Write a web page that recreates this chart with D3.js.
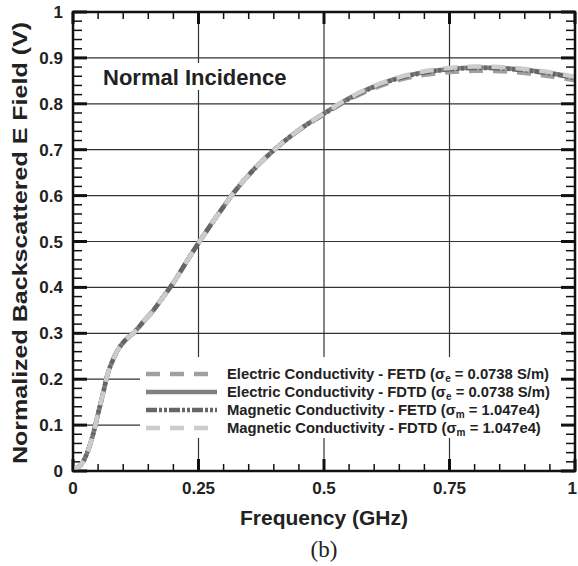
<!DOCTYPE html>
<html>
<head>
<meta charset="utf-8">
<script src="https://cdn.jsdelivr.net/npm/d3@7"></script>
<style>
  body { margin: 0; background: #fff; }
  text { font-family: "Liberation Sans", Arial, Helvetica, sans-serif; }
</style>
</head>
<body>
<div id="chart"></div>
<script>
// data
const freq = [0, 0.01, 0.02, 0.03, 0.04, 0.05, 0.06, 0.07, 0.08, 0.09, 0.10, 0.11, 0.12, 0.14, 0.16, 0.18, 0.20,
  0.22, 0.24, 0.26, 0.28, 0.30, 0.32, 0.35, 0.40, 0.45, 0.50, 0.55, 0.60, 0.65, 0.70, 0.75, 0.80, 0.85, 0.90, 0.95, 1.0];
const elecFETD = [0.005, 0.008, 0.02, 0.045, 0.08, 0.125, 0.17, 0.215, 0.243, 0.265, 0.28, 0.291, 0.30, 0.325, 0.35, 0.38, 0.41,
  0.445, 0.48, 0.513, 0.545, 0.576, 0.606, 0.645, 0.699, 0.742, 0.777, 0.809, 0.834, 0.852, 0.863, 0.869, 0.872, 0.871, 0.867, 0.86, 0.851];
const elecFDTD = [0.005, 0.008, 0.02, 0.045, 0.08, 0.125, 0.17, 0.215, 0.243, 0.265, 0.28, 0.291, 0.30, 0.325, 0.35, 0.38, 0.41,
  0.445, 0.48, 0.513, 0.545, 0.576, 0.606, 0.645, 0.699, 0.743, 0.779, 0.812, 0.838, 0.857, 0.869, 0.876, 0.879, 0.878, 0.874, 0.867, 0.857];
const magFETD = [0.005, 0.008, 0.02, 0.045, 0.08, 0.125, 0.17, 0.215, 0.243, 0.265, 0.28, 0.291, 0.30, 0.325, 0.35, 0.38, 0.41,
  0.445, 0.48, 0.513, 0.545, 0.576, 0.606, 0.645, 0.699, 0.743, 0.778, 0.811, 0.837, 0.856, 0.868, 0.875, 0.878, 0.877, 0.873, 0.866, 0.856];
const magFDTD = [0.005, 0.008, 0.02, 0.045, 0.08, 0.125, 0.17, 0.215, 0.243, 0.265, 0.28, 0.291, 0.30, 0.325, 0.35, 0.38, 0.41,
  0.445, 0.48, 0.513, 0.545, 0.576, 0.606, 0.645, 0.699, 0.743, 0.779, 0.813, 0.839, 0.858, 0.871, 0.878, 0.881, 0.88, 0.876, 0.869, 0.859];

const xTicks = [0, 0.25, 0.5, 0.75, 1];
const xTickLabels = ["0", "0.25", "0.5", "0.75", "1"];
const yTicks = [0, 0.1, 0.2, 0.3, 0.4, 0.5, 0.6, 0.7, 0.8, 0.9, 1];
const yTickLabels = ["0", "0.1", "0.2", "0.3", "0.4", "0.5", "0.6", "0.7", "0.8", "0.9", "1"];

const series = [
  {name: "Electric Conductivity - FDTD", sub: "e", val: "0.0738 S/m", values: elecFDTD, color: "#808080", dash: null, row: 1},
  {name: "Electric Conductivity - FETD", sub: "e", val: "0.0738 S/m", values: elecFETD, color: "#a0a0a0", dash: "14,10", row: 0},
  {name: "Magnetic Conductivity - FETD", sub: "m", val: "1.047e4", values: magFETD, color: "#666666", dash: "11,2,3,2,3,2", row: 2},
  {name: "Magnetic Conductivity - FDTD", sub: "m", val: "1.047e4", values: magFDTD, color: "#cccccc", dash: "14,10", row: 3}
];

const width = 578, height = 566;
const margin = {left: 73, right: 3, top: 12, bottom: 95};

const svg = d3.select("#chart").append("svg")
  .attr("width", width)
  .attr("height", height);

const x = d3.scaleLinear().domain([0, 1]).range([margin.left, width - margin.right]);
const y = d3.scaleLinear().domain([0, 1]).range([height - margin.bottom, margin.top]);

// grid lines at major ticks
svg.append("g").selectAll("line")
  .data(yTicks.slice(1, -1))
  .enter().append("line")
    .attr("x1", x(0)).attr("x2", x(1))
    .attr("y1", d => y(d)).attr("y2", d => y(d))
    .attr("stroke", "#333").attr("stroke-width", 1.2);
svg.append("g").selectAll("line")
  .data(xTicks.slice(1, -1))
  .enter().append("line")
    .attr("y1", y(0)).attr("y2", y(1))
    .attr("x1", d => x(d)).attr("x2", d => x(d))
    .attr("stroke", "#333").attr("stroke-width", 1.2);

// white boxes behind the legend and the title label
svg.append("rect")
  .attr("x", 140).attr("y", 357)
  .attr("width", x(1) - 142).attr("height", 81)
  .attr("fill", "#fff");
svg.append("rect")
  .attr("x", 98).attr("y", 63)
  .attr("width", 200).attr("height", 27)
  .attr("fill", "#fff");

// ticks (inward, all four sides)
const minorX = d3.range(0, 1.0001, 0.05);
const minorY = d3.range(0, 1.0001, 0.02);
const isMajor = (v, step) => Math.abs(v / step - Math.round(v / step)) < 1e-6;

const tickG = svg.append("g").attr("stroke", "#111");
minorX.forEach(v => {
  const major = isMajor(v, 0.25);
  const len = major ? 12 : 7;
  const sw = major ? 3 : 1.5;
  tickG.append("line").attr("x1", x(v)).attr("x2", x(v)).attr("y1", y(0)).attr("y2", y(0) - len).attr("stroke-width", sw);
  tickG.append("line").attr("x1", x(v)).attr("x2", x(v)).attr("y1", y(1)).attr("y2", y(1) + len).attr("stroke-width", sw);
});
minorY.forEach(v => {
  const major = isMajor(v, 0.1);
  const len = major ? 14 : 9;
  const sw = major ? 3 : 1.5;
  tickG.append("line").attr("y1", y(v)).attr("y2", y(v)).attr("x1", x(0)).attr("x2", x(0) + len).attr("stroke-width", sw);
  tickG.append("line").attr("y1", y(v)).attr("y2", y(v)).attr("x1", x(1)).attr("x2", x(1) - len).attr("stroke-width", sw);
});

// curves
const line = d3.line()
  .x((d, i) => x(freq[i]))
  .y(d => y(d))
  .curve(d3.curveCatmullRom.alpha(0.5));

series.forEach(s => {
  svg.append("path")
    .datum(s.values)
    .attr("d", line)
    .attr("fill", "none")
    .attr("stroke", s.color)
    .attr("stroke-width", 4.5)
    .attr("stroke-dasharray", s.dash);
});

// frame
svg.append("rect")
  .attr("x", x(0)).attr("y", y(1))
  .attr("width", x(1) - x(0)).attr("height", y(0) - y(1))
  .attr("fill", "none").attr("stroke", "#111").attr("stroke-width", 2.5);

// tick labels (last one kept inside the page edge)
svg.append("g").selectAll("text")
  .data(xTicks)
  .enter().append("text")
    .attr("x", d => d === 1 ? width - 1 : x(d))
    .attr("y", y(0) + 23)
    .attr("text-anchor", d => d === 1 ? "end" : "middle")
    .attr("font-size", 17).attr("font-weight", "bold").attr("fill", "#222")
    .text((d, i) => xTickLabels[i]);
svg.append("g").selectAll("text")
  .data(yTicks)
  .enter().append("text")
    .attr("x", x(0) - 10)
    .attr("y", d => y(d) + 6)
    .attr("text-anchor", "end")
    .attr("font-size", 17).attr("font-weight", "bold").attr("fill", "#222")
    .text((d, i) => yTickLabels[i]);

// axis titles
svg.append("text")
  .attr("x", (x(0) + x(1)) / 2).attr("y", 525)
  .attr("text-anchor", "middle")
  .attr("font-size", 21).attr("font-weight", "bold").attr("fill", "#222")
  .text("Frequency (GHz)");
svg.append("text")
  .attr("transform", `translate(27,243) rotate(-90)`)
  .attr("text-anchor", "middle")
  .attr("font-size", 21).attr("font-weight", "bold").attr("fill", "#222")
  .attr("textLength", 442).attr("lengthAdjust", "spacingAndGlyphs")
  .text("Normalized Backscattered E Field (V)");
svg.append("text")
  .attr("x", (x(0) + x(1)) / 2).attr("y", 557)
  .attr("text-anchor", "middle")
  .style("font-family", "'Liberation Serif', 'Times New Roman', serif")
  .attr("font-size", 23).attr("fill", "#222")
  .text("(b)");

svg.append("text")
  .attr("x", 103).attr("y", 85)
  .attr("font-size", 22).attr("font-weight", "bold").attr("fill", "#222")
  .text("Normal Incidence");

// legend
const legendRowY = [374, 392, 410, 428];
series.forEach(s => {
  const ly = legendRowY[s.row];
  svg.append("line")
    .attr("x1", 146).attr("x2", 217)
    .attr("y1", ly).attr("y2", ly)
    .attr("stroke", s.color).attr("stroke-width", 4.5)
    .attr("stroke-dasharray", s.dash);
  const t = svg.append("text")
    .attr("x", 227).attr("y", ly + 5)
    .attr("font-size", 14.8).attr("font-weight", "bold").attr("fill", "#222");
  t.append("tspan").text(s.name + " (σ");
  t.append("tspan").attr("font-size", 10).attr("dy", 3).text(s.sub);
  t.append("tspan").attr("dy", -3).text(" = " + s.val + ")");
});
</script>
</body>
</html>
